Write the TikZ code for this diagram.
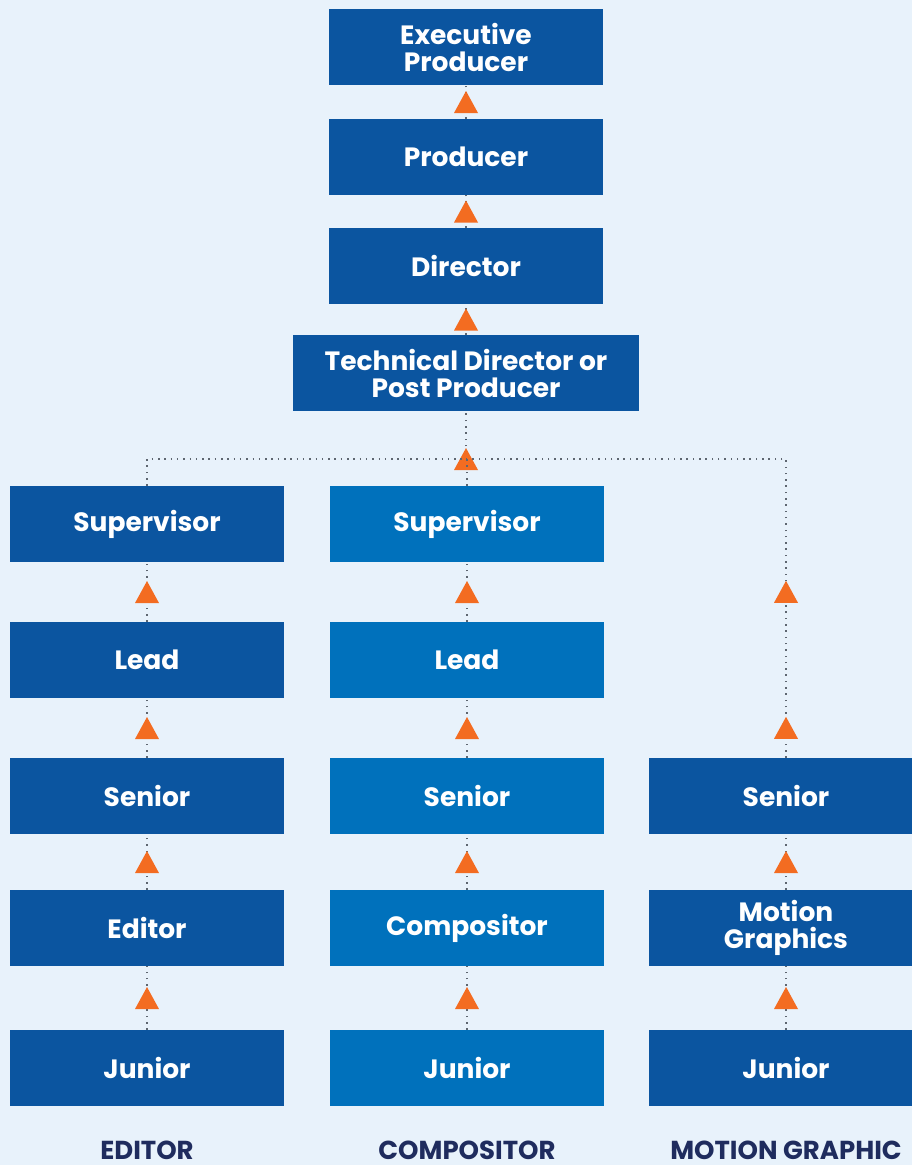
\documentclass[tikz,border=0pt]{standalone}
\usepackage{fontspec}
\setmainfont{Poppins}
\usetikzlibrary{decorations.markings}
\definecolor{BgBlue}{HTML}{E8F2FB}
\definecolor{DarkBox}{HTML}{0B55A0}
\definecolor{LightBox}{HTML}{0071BC}
\definecolor{TriOrange}{HTML}{F36C21}
\definecolor{DotGray}{HTML}{5E6670}
\definecolor{Navy}{HTML}{1F2C5E}
\tikzset{
  box/.style={fill=DarkBox, text=white, minimum width=274pt, minimum height=76pt,
    inner sep=0pt, align=center, font=\fontsize{26.5}{27}\selectfont\bfseries},
  lbox/.style={box, fill=LightBox},
  link/.style={DotGray, line width=1.5pt, dash pattern=on 1.5pt off 4.8pt},
  tri/.style={postaction={decorate, decoration={markings, mark=at position #1 with
    {\fill[TriOrange] (11pt,0pt) -- (-11pt,12pt) -- (-11pt,-12pt) -- cycle;}}}},
  tri/.default=0.5,
  colhead/.style={text=Navy, font=\fontsize{26}{27}\selectfont\bfseries}
}

\begin{document}
\begin{tikzpicture}[x=1pt,y=-1pt]
  \fill[BgBlue] (0,0) rectangle (912,1165);
  \useasboundingbox (0,0) rectangle (912,1165);

  % top chain
  \node[box] (ep) at (466,47) {Executive\\Producer};
  \node[box] (prod) at (466,157) {Producer};
  \node[box] (dir) at (466,266) {Director};
  \node[box, minimum width=346pt] (td) at (466,373) {Technical Director or\\Post Producer};
  \coordinate (jn) at (466,459);

  % editor column
  \node[box] (esup) at (147,524) {Supervisor};
  \node[box] (elead) at (147,660) {Lead};
  \node[box] (esen) at (147,796) {Senior};
  \node[box] (eed) at (147,928) {Editor};
  \node[box] (ejun) at (147,1068) {Junior};

  % compositor column
  \node[lbox] (csup) at (467,524) {Supervisor};
  \node[lbox] (clead) at (467,660) {Lead};
  \node[lbox] (csen) at (467,796) {Senior};
  \node[lbox] (ccomp) at (467,928) {Compositor};
  \node[lbox] (cjun) at (467,1068) {Junior};

  % motion graphic column
  \node[box] (msen) at (786,796) {Senior};
  \node[box] (mmg) at (786,928) {Motion\\Graphics};
  \node[box] (mjun) at (786,1068) {Junior};

  % connectors
  \foreach \a/\b in {prod/ep, dir/prod, td/dir,
      elead/esup, esen/elead, eed/esen, ejun/eed,
      clead/csup, csen/clead, ccomp/csen, cjun/ccomp,
      mmg/msen, mjun/mmg}
    \draw[link, tri] (\a.north) -- (\b.south);
  \draw[link, tri=0] (jn) -- (td.south);
  \draw[link] (esup.north) |- (jn);
  \draw[link] (csup.north) -- (csup.north |- jn);
  \draw[link, tri=30pt, tri=166pt] (msen.north) |- (jn);

  % column headings
  \node[colhead] (lEd) at (147,1150) {EDITOR};
  \node[colhead] (lComp) at (467,1150) {COMPOSITOR};
  \node[colhead] (lMot) at (786,1150) {MOTION GRAPHIC};
\end{tikzpicture}
\end{document}
